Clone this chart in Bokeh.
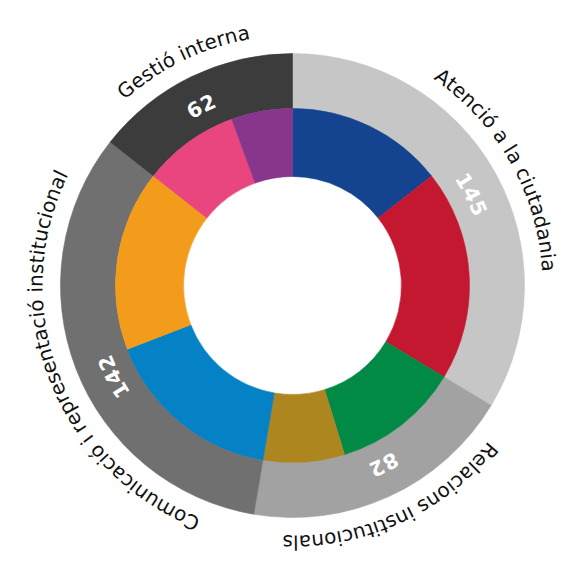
import math
from bokeh.plotting import figure
from bokeh.core.properties import value
from bokeh.embed import file_html
from bokeh.resources import INLINE

# ---------------- data ----------------
outer_labels = ["Atenció a la ciutadania", "Relacions institucionals",
                "Comunicació i representació institucional", "Gestió interna"]
outer_values = [145, 82, 142, 62]
inner_values = [62, 83, 50, 32, 71, 71, 38, 24]

# ---------------- style / layout ----------------
outer_colors = ["#c6c6c6", "#a2a2a2", "#707070", "#3c3c3c"]
inner_colors = ["#14448f", "#c41730", "#008a45", "#ad8620",
                "#0581c6", "#f39c1b", "#e9457e", "#87368c"]
NUM_ANGLES = [63, 153, 243, 333]      # label positions of the totals (deg, clockwise from top)

R_HOLE, R_MID, R_OUT = 109, 177, 232
R_LABEL = 257      # baseline radius of category names
R_NUM = 202        # baseline radius of totals
FONT = "DejaVu Sans"

W, H = 562, 559
CX, CY = 292, 285

p = figure(width=W, height=H, x_range=(-CX, W - CX), y_range=(CY - H, CY),
           output_backend="svg", toolbar_location=None, min_border=0,
           outline_line_color=None)
p.axis.visible = False
p.grid.visible = False
p.background_fill_color = "white"

total = float(sum(outer_values))


def wedges(values, colors, r0, r1):
    starts, ends = [], []
    c = 0.0
    for v in values:
        t0 = c / total * 2 * math.pi
        c += v
        t1 = c / total * 2 * math.pi
        starts.append(math.pi / 2 - t0)
        ends.append(math.pi / 2 - t1)
    p.annular_wedge(x=0, y=0, inner_radius=r0, outer_radius=r1,
                    start_angle=starts, end_angle=ends, direction="clock",
                    fill_color=colors, line_color=colors, line_width=0.6)


wedges(outer_values, outer_colors, R_MID, R_OUT)
wedges(inner_values, inner_colors, R_HOLE, R_MID)

# DejaVu Sans advance widths (em)
WREG = {"G": .774, "e": .615, "s": .521, "t": .392, "i": .278, "ó": .612, " ": .318,
        "n": .634, "r": .411, "a": .613, "A": .684, "c": .550, "l": .278, "u": .634,
        "d": .635, "R": .695, "o": .612, "C": .698, "m": .974, "p": .635}
WBOLD = {d: .696 for d in "0123456789"}


def arc_text(text, mid_deg, r, fs, k, widths):
    adv = [widths.get(ch, .6) * fs * k for ch in text]
    L = sum(adv)
    start = math.radians(mid_deg) - L / 2 / r
    xs, ys, angs, chars = [], [], [], []
    cum = 0.0
    for ch, a in zip(text, adv):
        th = start + (cum + a / 2) / r
        cum += a
        if ch == " ":
            continue
        xs.append(r * math.sin(th))
        ys.append(r * math.cos(th))
        angs.append(-th)
        chars.append(ch)
    return xs, ys, angs, chars


# category names, centred on each outer segment
c = 0.0
LX, LY, LA, LT = [], [], [], []
for lab, v in zip(outer_labels, outer_values):
    mid = (c + v / 2) / total * 360
    c += v
    xs, ys, angs, chars = arc_text(lab, mid, R_LABEL, 20, 1.03, WREG)
    LX += xs; LY += ys; LA += angs; LT += chars
p.text(x=LX, y=LY, text=LT, angle=LA, text_align="center",
       text_baseline="alphabetic", text_font=value(FONT),
       text_font_size="20px", text_color="#111111")

# totals
NX, NY, NA, NT = [], [], [], []
for v, ang in zip(outer_values, NUM_ANGLES):
    xs, ys, angs, chars = arc_text(str(v), ang, R_NUM, 20.5, 1.08, WBOLD)
    NX += xs; NY += ys; NA += angs; NT += chars
p.text(x=NX, y=NY, text=NT, angle=NA, text_align="center",
       text_baseline="alphabetic", text_font=value(FONT),
       text_font_size="20.5px", text_font_style="bold", text_color="white")

open("out.html", "w").write(file_html(p, INLINE))
